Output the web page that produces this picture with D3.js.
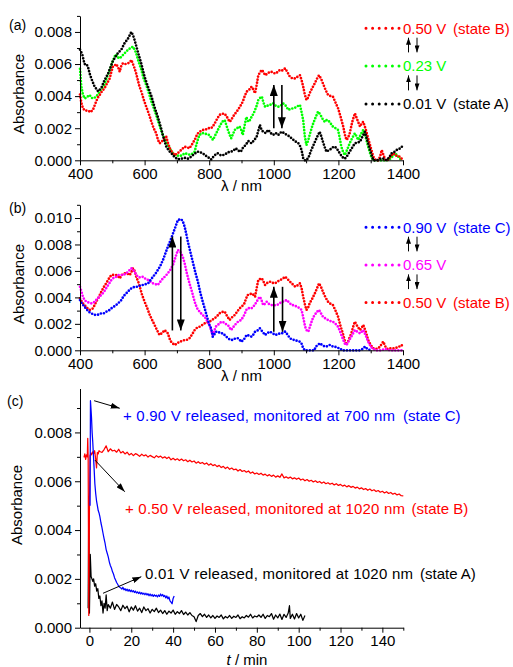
<!DOCTYPE html>
<html>
<head>
<meta charset="utf-8">
<script src="https://cdn.jsdelivr.net/npm/d3@7"></script>
<style>
  html, body { margin: 0; padding: 0; background: #fff; }
  svg { display: block; }
  text { font-family: "Liberation Sans", Arial, sans-serif; }
</style>
</head>
<body>
<svg id="fig" width="513" height="667"></svg>
<script>
// ---------- panel (a): spectra between 0.01 V and 0.50 V ----------
const specA_050 = [[400,0.0041],[404,0.0036],[409,0.00324],[415,0.0031],[425,0.0031],[432,0.0030],[440,0.00314],[445,0.0034],[450,0.00366],[455,0.0039],[461,0.00407],[468,0.0043],[476,0.00449],[484,0.0048],[492,0.0051],[497,0.0055],[502,0.00584],[507,0.0059],[512,0.0060],[518,0.0058],[523,0.00552],[528,0.0059],[533,0.00605],[541,0.0060],[549,0.00605],[554,0.0061],[559,0.00625],[564,0.0060],[569,0.00573],[574,0.0054],[579,0.0050],[584,0.0046],[590,0.00428],[597,0.0038],[605,0.00334],[613,0.0029],[621,0.0024],[628,0.0020],[636,0.00168],[641,0.0013],[646,0.00106],[651,0.0011],[657,0.00127],[662,0.0014],[667,0.00147],[672,0.0011],[678,0.00075],[685,0.0005],[693,0.00033],[700,0.0004],[708,0.00054],[716,0.0007],[724,0.00085],[732,0.0008],[739,0.00075],[747,0.0010],[755,0.00127],[760,0.0015],[765,0.00168],[772,0.0018],[780,0.00189],[788,0.0019],[796,0.0020],[806,0.0020],[811,0.0021],[817,0.0023],[825,0.0026],[832,0.00283],[840,0.0029],[848,0.0029],[855,0.0027],[863,0.0024],[868,0.0025],[873,0.0027],[880,0.0029],[889,0.00314],[897,0.0034],[904,0.00366],[910,0.0040],[916,0.00428],[924,0.0044],[931,0.00459],[937,0.0044],[942,0.00418],[947,0.0047],[952,0.0053],[958,0.0055],[963,0.00563],[968,0.0055],[973,0.0053],[980,0.0054],[988,0.00552],[996,0.0055],[1004,0.0054],[1012,0.0055],[1019,0.00563],[1027,0.0056],[1035,0.00573],[1042,0.0055],[1050,0.0052],[1058,0.0051],[1066,0.0051],[1073,0.0052],[1081,0.0053],[1086,0.0050],[1091,0.00459],[1096,0.0041],[1101,0.00376],[1106,0.0039],[1111,0.00418],[1119,0.0045],[1127,0.0048],[1134,0.0051],[1140,0.0053],[1146,0.0051],[1152,0.0048],[1160,0.0044],[1168,0.00407],[1176,0.0040],[1183,0.00397],[1191,0.0036],[1199,0.00324],[1207,0.0027],[1215,0.0021],[1220,0.0016],[1225,0.00127],[1230,0.0014],[1235,0.00168],[1243,0.0024],[1251,0.00293],[1259,0.0025],[1267,0.0021],[1272,0.0023],[1277,0.0024],[1285,0.0019],[1292,0.00137],[1300,0.0008],[1308,0.00023],[1316,0],[1324,0],[1330,0.0003],[1334,0.00064],[1340,0.0003],[1346,0],[1352,0],[1360,0.0002],[1370,0.00044],[1378,0.0003],[1390,0.00023],[1396,0.0001],[1400,0]];

const specA_023 = [[400,0.0057],[404,0.0046],[409,0.0041],[414,0.00386],[420,0.0039],[425,0.0040],[430,0.00407],[435,0.0039],[440,0.00386],[445,0.0039],[450,0.00397],[455,0.0041],[461,0.00428],[468,0.0045],[476,0.0047],[484,0.0052],[492,0.00563],[500,0.0061],[507,0.00646],[512,0.0066],[518,0.0064],[523,0.00635],[530,0.0065],[538,0.00667],[544,0.0068],[549,0.00688],[556,0.0070],[564,0.00708],[569,0.0069],[574,0.00667],[582,0.0061],[590,0.00563],[597,0.0051],[605,0.0047],[613,0.0042],[621,0.00366],[631,0.0031],[641,0.0025],[649,0.0020],[656,0.0016],[662,0.0013],[667,0.00106],[672,0.0009],[678,0.00075],[685,0.0005],[693,0.00033],[700,0.0003],[708,0.00027],[716,0.0003],[724,0.00044],[732,0.0004],[739,0.00035],[747,0.0004],[755,0.00054],[760,0.00095],[765,0.0013],[770,0.00158],[778,0.0017],[786,0.00168],[794,0.0016],[801,0.00158],[806,0.0014],[812,0.00127],[817,0.0015],[822,0.00168],[827,0.0019],[832,0.0021],[840,0.0024],[848,0.0025],[853,0.0022],[858,0.00189],[863,0.0016],[868,0.00137],[873,0.0016],[879,0.00189],[886,0.0020],[894,0.0021],[899,0.0019],[904,0.00158],[910,0.0022],[915,0.0027],[921,0.0024],[926,0.0025],[931,0.0027],[937,0.0029],[942,0.00314],[947,0.0034],[952,0.00376],[958,0.0039],[963,0.00397],[968,0.0036],[973,0.00334],[980,0.0034],[988,0.00345],[993,0.0035],[998,0.00355],[1006,0.0034],[1014,0.00334],[1021,0.0034],[1029,0.00355],[1037,0.0034],[1045,0.00314],[1052,0.0032],[1060,0.00324],[1068,0.0033],[1076,0.0034],[1081,0.00345],[1086,0.0030],[1091,0.0025],[1096,0.0015],[1101,0.00095],[1106,0.0012],[1111,0.00158],[1117,0.0020],[1122,0.0023],[1130,0.0027],[1137,0.00303],[1142,0.0029],[1148,0.0027],[1153,0.0025],[1158,0.0024],[1163,0.0025],[1168,0.0025],[1176,0.0023],[1183,0.0021],[1191,0.0020],[1199,0.00189],[1204,0.0014],[1209,0.00085],[1215,0.0005],[1220,0.00033],[1228,0.0007],[1235,0.00106],[1243,0.0014],[1251,0.00168],[1256,0.0015],[1261,0.00127],[1269,0.0016],[1277,0.00189],[1285,0.0014],[1292,0.00085],[1300,0.0003],[1308,0],[1330,0],[1350,0],[1362,0.0001],[1370,0.0003],[1375,0.00044],[1382,0.0003],[1390,0.0001],[1400,0]];

const specA_001 = [[400,0.0069],[407,0.0066],[414,0.0060],[420,0.0060],[425,0.0058],[430,0.0054],[435,0.0051],[445,0.0046],[456,0.0043],[466,0.0045],[476,0.0050],[487,0.0054],[502,0.0062],[518,0.0067],[528,0.0069],[538,0.0073],[549,0.0076],[559,0.0080],[564,0.0078],[569,0.0075],[580,0.0067],[590,0.0060],[600,0.0052],[610,0.0046],[621,0.0040],[631,0.0033],[641,0.0027],[651,0.0020],[656,0.0016],[667,0.00085],[675,0.0006],[683,0.00044],[693,0.0002],[703,0.00006],[714,0.0001],[724,0.00015],[734,0.0001],[744,0.00022],[754,0.0004],[764,0.00054],[772,0.0005],[780,0.00044],[788,0.0003],[796,0.0002],[806,0.00005],[816,0.0003],[826,0.00044],[837,0.0003],[848,0.00035],[858,0.0005],[868,0.00054],[875,0.0006],[882,0.00075],[890,0.0006],[898,0.00054],[905,0.0008],[913,0.00095],[921,0.0012],[931,0.00106],[941,0.0013],[947,0.00147],[957,0.0022],[962,0.0019],[967,0.00178],[975,0.0017],[983,0.0019],[990,0.0017],[998,0.00158],[1006,0.0017],[1014,0.00158],[1024,0.00178],[1032,0.0017],[1040,0.00158],[1048,0.0015],[1055,0.00137],[1065,0.0012],[1076,0.00106],[1081,0.0009],[1086,0.00064],[1091,0.00012],[1096,0],[1101,0],[1108,0.0002],[1116,0.00064],[1124,0.0010],[1132,0.00137],[1142,0.00178],[1147,0.0015],[1152,0.00116],[1158,0.0008],[1163,0.00054],[1168,0.0006],[1173,0.00064],[1181,0.0008],[1189,0.00085],[1196,0.0007],[1204,0.00044],[1212,0.0002],[1220,0.0001],[1228,0.0003],[1235,0.00054],[1243,0.0008],[1251,0.00106],[1259,0.0011],[1267,0.00116],[1275,0.0015],[1282,0.00178],[1290,0.0012],[1298,0.00064],[1308,0],[1320,0],[1330,0.0001],[1339,0.0001],[1350,0],[1358,0.0002],[1365,0.00044],[1372,0.0005],[1380,0.00064],[1388,0.0007],[1396,0.00085],[1400,0.0008]];

// ---------- panel (b): spectra between 0.50 V and 0.90 V ----------
const specB_090 = [[400,0.0038],[407,0.0035],[414,0.0033],[420,0.0031],[428,0.0029],[435,0.0028],[442,0.0027],[450,0.00267],[458,0.0027],[466,0.0028],[474,0.0028],[481,0.00292],[489,0.0030],[497,0.00317],[505,0.0033],[512,0.00342],[520,0.0036],[528,0.0038],[535,0.0041],[543,0.0043],[551,0.0045],[559,0.00469],[569,0.0048],[580,0.00481],[587,0.0049],[595,0.00494],[603,0.0050],[611,0.00506],[618,0.0053],[626,0.00556],[634,0.0058],[641,0.00607],[649,0.0064],[657,0.00683],[664,0.0073],[672,0.00783],[680,0.0083],[688,0.00884],[695,0.0093],[703,0.00985],[709,0.0099],[714,0.0099],[719,0.0097],[724,0.00934],[729,0.0088],[734,0.0082],[741,0.0075],[749,0.0067],[757,0.0059],[765,0.00519],[772,0.0044],[780,0.00367],[788,0.0030],[796,0.00229],[801,0.0019],[806,0.00166],[811,0.00103],[816,0.0012],[821,0.0014],[827,0.00141],[834,0.0013],[842,0.00128],[850,0.0011],[858,0.00091],[865,0.0008],[873,0.00078],[881,0.0009],[889,0.00091],[894,0.0008],[899,0.00065],[907,0.0008],[916,0.00116],[924,0.0011],[931,0.00103],[937,0.0012],[942,0.00141],[950,0.0015],[957,0.00166],[965,0.0014],[973,0.00116],[980,0.0013],[988,0.00141],[996,0.0013],[1004,0.00116],[1012,0.0012],[1019,0.00128],[1027,0.0013],[1035,0.00141],[1042,0.0012],[1050,0.00091],[1058,0.0008],[1066,0.00078],[1073,0.0007],[1081,0.00065],[1086,0.0005],[1091,0.00015],[1096,0],[1110,0],[1125,0],[1131,0.0003],[1137,0.0004],[1142,0.00053],[1150,0.0004],[1158,0.00028],[1165,0.0003],[1173,0.0004],[1181,0.0003],[1189,0.00028],[1196,0.0002],[1204,0.00015],[1212,0],[1230,0],[1250,0],[1265,0],[1275,0.0001],[1282,0.00028],[1290,0.0001],[1300,0]];

const specB_065 = [[400,0.0048],[405,0.0044],[409,0.00405],[414,0.0038],[420,0.00367],[428,0.0036],[435,0.00355],[442,0.0036],[450,0.0038],[458,0.0040],[466,0.00418],[474,0.0044],[481,0.00469],[489,0.0050],[497,0.00531],[505,0.0055],[512,0.00556],[520,0.0057],[528,0.00569],[535,0.0057],[543,0.00582],[551,0.0060],[559,0.0062],[564,0.0061],[569,0.00594],[574,0.0057],[580,0.00556],[587,0.0055],[595,0.00556],[603,0.0054],[611,0.00531],[618,0.0052],[626,0.00506],[634,0.0050],[641,0.00494],[649,0.0052],[657,0.00544],[664,0.0056],[672,0.00582],[680,0.0061],[688,0.00645],[695,0.0070],[703,0.00758],[709,0.0075],[714,0.0073],[719,0.0070],[724,0.00658],[731,0.0058],[739,0.00506],[747,0.0044],[755,0.00367],[762,0.0032],[770,0.00292],[778,0.0027],[786,0.00254],[794,0.0022],[801,0.00191],[806,0.0015],[811,0.00116],[816,0.0015],[821,0.0018],[827,0.00191],[834,0.0021],[842,0.00216],[850,0.0020],[858,0.00191],[863,0.0017],[868,0.00153],[876,0.0018],[884,0.00204],[891,0.0022],[899,0.00229],[907,0.0026],[916,0.0031],[924,0.0032],[931,0.00317],[940,0.0034],[947,0.00367],[952,0.0039],[957,0.00405],[962,0.0038],[967,0.00342],[972,0.0035],[978,0.00367],[985,0.0035],[993,0.00342],[1001,0.0034],[1009,0.00342],[1016,0.0035],[1024,0.00367],[1032,0.0037],[1040,0.0038],[1048,0.0036],[1055,0.00342],[1063,0.0034],[1071,0.0033],[1079,0.0032],[1086,0.00305],[1091,0.0025],[1097,0.00178],[1102,0.0015],[1107,0.00141],[1112,0.0018],[1117,0.00216],[1122,0.0025],[1127,0.00267],[1133,0.0029],[1140,0.00305],[1146,0.0028],[1152,0.00254],[1160,0.0024],[1168,0.00229],[1176,0.0022],[1183,0.00216],[1191,0.0020],[1199,0.00178],[1207,0.0013],[1215,0.00078],[1220,0.0005],[1225,0.0004],[1232,0.0007],[1240,0.00103],[1246,0.0013],[1251,0.00153],[1259,0.0014],[1267,0.00128],[1272,0.0014],[1277,0.00153],[1285,0.0011],[1292,0.00065],[1300,0.0003],[1305,0.00015],[1315,0],[1330,0],[1345,0.0001],[1360,0],[1375,0],[1390,0],[1400,0]];

const specB_050 = [[400,0.00393],[407,0.0036],[414,0.00342],[422,0.0032],[430,0.00305],[436,0.0031],[440,0.00317],[445,0.0034],[450,0.00367],[458,0.0040],[466,0.00443],[474,0.0048],[481,0.00506],[489,0.0054],[497,0.00569],[505,0.0057],[512,0.00569],[518,0.0056],[523,0.00544],[530,0.0057],[538,0.00582],[546,0.0058],[554,0.00569],[559,0.0059],[564,0.0062],[569,0.0060],[574,0.00556],[580,0.0052],[585,0.00481],[592,0.0042],[600,0.00367],[608,0.0032],[616,0.00267],[623,0.0023],[631,0.00191],[639,0.0015],[646,0.00116],[654,0.0013],[662,0.00153],[667,0.0014],[672,0.00128],[677,0.0009],[682,0.00065],[688,0.0005],[693,0.0004],[700,0.0005],[708,0.00065],[716,0.0007],[724,0.00078],[732,0.0008],[739,0.00091],[747,0.0012],[755,0.00153],[762,0.0017],[770,0.00178],[778,0.0019],[786,0.00204],[794,0.0021],[801,0.00216],[809,0.0023],[817,0.00242],[825,0.0026],[832,0.0028],[840,0.0029],[848,0.00292],[855,0.0026],[863,0.00229],[871,0.0025],[879,0.00267],[886,0.0029],[894,0.00317],[901,0.0033],[909,0.00355],[914,0.0039],[919,0.00418],[925,0.0042],[931,0.0043],[937,0.0042],[942,0.00405],[947,0.0047],[952,0.00531],[958,0.0054],[963,0.00544],[968,0.0052],[973,0.00494],[980,0.0051],[988,0.00519],[996,0.0051],[1004,0.00506],[1012,0.0052],[1019,0.00531],[1027,0.0054],[1035,0.00556],[1042,0.0054],[1050,0.00519],[1058,0.0050],[1066,0.00481],[1073,0.0049],[1081,0.00506],[1086,0.0047],[1091,0.00405],[1096,0.0035],[1101,0.00305],[1106,0.0032],[1111,0.00355],[1119,0.0039],[1127,0.0043],[1134,0.0047],[1140,0.00506],[1146,0.0048],[1152,0.00443],[1160,0.0040],[1168,0.00367],[1176,0.0035],[1183,0.00342],[1191,0.0030],[1199,0.00254],[1207,0.0018],[1215,0.00116],[1220,0.0007],[1225,0.0004],[1232,0.0008],[1240,0.00128],[1246,0.0018],[1251,0.00216],[1259,0.0018],[1267,0.00153],[1272,0.0017],[1277,0.00191],[1285,0.0014],[1292,0.00078],[1300,0.0004],[1308,0.00015],[1316,0.0001],[1324,0.00015],[1332,0.0004],[1339,0.00065],[1345,0.0003],[1352,0.0001],[1360,0.00015],[1370,0.00015],[1380,0.0002],[1390,0.0003],[1396,0.0004],[1400,0.0002]];

// ---------- panel (c): absorbance after the potential is released ----------
const trace090 = [[0.3,0.0050],[0.5,0.0093],[0.8,0.0089],[1.0,0.0086],[1.3,0.0080],[1.6,0.0076],[1.9,0.0071],[2.2,0.0066],[2.6,0.0059],[3.0,0.0055],[3.4,0.0052],[3.8,0.0050],[4.2,0.0048],[4.6,0.0047],[5.0,0.00455],[5.5,0.0043],[6.0,0.0041],[6.5,0.00387],[7.0,0.00365],[7.5,0.00345],[8.0,0.0032],[8.5,0.00305],[9.0,0.0029],[9.5,0.0027],[10.0,0.00255],[10.5,0.00245],[11.0,0.0023],[11.5,0.0022],[12.0,0.00205],[12.5,0.00195],[13.0,0.00185],[13.5,0.00178],[14.0,0.0017],[14.5,0.00166],[15.0,0.00163],[15.5,0.00158],[16.0,0.00166],[16.5,0.00155],[17.0,0.0016],[17.5,0.00152],[18.0,0.00158],[18.5,0.0015],[19.0,0.00156],[19.5,0.00148],[20.0,0.00154],[20.5,0.00147],[21.0,0.00152],[21.5,0.00144],[22.0,0.0015],[22.5,0.00142],[23.0,0.00147],[23.5,0.0014],[24.0,0.00146],[24.5,0.00138],[25.0,0.00144],[25.5,0.00137],[26.0,0.00142],[26.5,0.00135],[27.0,0.00141],[27.5,0.00134],[28.0,0.00139],[28.5,0.00131],[29.0,0.00138],[29.5,0.0013],[30.0,0.00136],[30.5,0.00128],[31.0,0.00135],[31.5,0.00129],[32.0,0.00133],[32.5,0.00126],[33.0,0.00134],[33.5,0.00128],[34.0,0.00138],[34.5,0.0013],[35.0,0.00136],[35.5,0.00127],[36.0,0.00132],[36.5,0.00122],[37.0,0.0013],[37.5,0.00118],[38.0,0.00126],[38.5,0.0011],[39.0,0.00105],[39.5,0.00098],[40.0,0.0012],[40.5,0.0013]];

const trace050 = [[-2.6,0.00698],[-2.2,0.00712],[-1.8,0.0069],[-1.4,0.00708],[-1.0,0.007],[-0.8,0.00776],[-0.6,0.00695],[-0.3,0.0005],[0.0,0.0048],[0.3,0.00705],[0.7,0.00715],[1.0,0.00708],[1.5,0.0072],[2.0,0.00712],[2.5,0.00725],[3.0,0.0069],[3.4,0.00655],[3.8,0.00718],[4.2,0.00712],[4.6,0.00725],[5,0.00722],[6,0.00718],[7,0.0073],[8,0.00745],[9,0.00721],[10,0.00733],[11,0.00724],[12,0.00727],[13,0.00719],[14,0.00731],[15,0.00716],[16,0.00722],[17,0.00712],[18,0.00719],[19,0.00708],[20,0.00714],[21,0.00705],[22,0.00713],[23,0.00709],[24,0.00702],[25,0.00711],[26,0.00704],[27,0.00708],[28,0.00699],[29,0.00706],[30,0.00701],[31,0.00696],[32,0.00705],[33,0.00698],[34,0.00703],[35,0.00695],[36,0.007],[37,0.00693],[38,0.00699],[39,0.00688],[40,0.00694],[41,0.00687],[42,0.00692],[43,0.00685],[44,0.00691],[45,0.00684],[46,0.00688],[47,0.0068],[48,0.00686],[49,0.00679],[50,0.00683],[51,0.00674],[52,0.0068],[53,0.00673],[54,0.00677],[55,0.0067],[56,0.00675],[57,0.00666],[58,0.00672],[59,0.00664],[60,0.00668],[61,0.0066],[62,0.00665],[63,0.00656],[64,0.00661],[65,0.00652],[66,0.00658],[67,0.00649],[68,0.00654],[69,0.00647],[70,0.0065],[71,0.00642],[72,0.00648],[73,0.0064],[74,0.00644],[75,0.00637],[76,0.00642],[77,0.00633],[78,0.00638],[79,0.0063],[80,0.00634],[81,0.00628],[82,0.00633],[83,0.00625],[84,0.00629],[85,0.00622],[86,0.00627],[87,0.0062],[88,0.00625],[89,0.00617],[90,0.00622],[91,0.00616],[92,0.0063],[93,0.00614],[94,0.00618],[95,0.00612],[96,0.00617],[97,0.0061],[98,0.00614],[99,0.00608],[100,0.00613],[101,0.00605],[102,0.00609],[103,0.00602],[104,0.00607],[105,0.006],[106,0.00604],[107,0.00597],[108,0.00602],[109,0.00595],[110,0.00599],[111,0.00592],[112,0.00597],[113,0.0059],[114,0.00594],[115,0.00588],[116,0.00592],[117,0.00585],[118,0.0059],[119,0.00583],[120,0.00587],[121,0.0058],[122,0.00584],[123,0.00577],[124,0.00582],[125,0.00575],[126,0.00579],[127,0.00572],[128,0.00576],[129,0.00569],[130,0.00573],[131,0.00566],[132,0.0057],[133,0.00563],[134,0.00568],[135,0.00561],[136,0.00565],[137,0.00558],[138,0.00562],[139,0.00555],[140,0.00559],[141,0.00552],[142,0.00557],[143,0.0055],[144,0.00554],[145,0.00547],[146,0.00551],[147,0.00544],[148,0.00548],[149,0.00541],[150,0.0054]];

const trace001 = [[-0.6,0.0008],[-0.3,0.0052],[0.0,0.0006],[0.4,0.003],[0.8,0.0021],[1.2,0.002],[1.6,0.0019],[2.0,0.002],[2.5,0.0017],[3.0,0.0018],[3.5,0.0015],[4.0,0.0016],[4.5,0.0012],[5.0,0.0013],[5.5,0.0009],[6.0,0.0011],[6.5,0.0006],[7.0,0.001],[7.5,0.0008],[8.0,0.00134],[8.5,0.0007],[9,0.00095],[10,0.0008],[11,0.00105],[12,0.00075],[13,0.00095],[14,0.00085],[15,0.0007],[16,0.00092],[17,0.00078],[18,0.00088],[19,0.00065],[20,0.00085],[21,0.00072],[22,0.0009],[23,0.00068],[24,0.0008],[25,0.00062],[26,0.00085],[27,0.0007],[28,0.00078],[29,0.0006],[30,0.00075],[31,0.00066],[32,0.0008],[33,0.00062],[34,0.00072],[35,0.00058],[36,0.0007],[37,0.00055],[38,0.00068],[39,0.0006],[40,0.00072],[41,0.00055],[42,0.00066],[43,0.00058],[44,0.0007],[45,0.00054],[46,0.00064],[47,0.00052],[48,0.00062],[49,0.0005],[50,0.00045],[51,0.00025],[52,0.0005],[53,0.00058],[54,0.00045],[55,0.00055],[56,0.00042],[57,0.00052],[58,0.0004],[59,0.0005],[60,0.00038],[61,0.00048],[62,0.00042],[63,0.00052],[64,0.00036],[65,0.00046],[66,0.0004],[67,0.0005],[68,0.00038],[69,0.00047],[70,0.00042],[71,0.00052],[72,0.00037],[73,0.00045],[74,0.0004],[75,0.0005],[76,0.00043],[77,0.00055],[78,0.0004],[79,0.00048],[80,0.00044],[81,0.00052],[82,0.00042],[83,0.00055],[84,0.00038],[85,0.0005],[86,0.00045],[87,0.00058],[88,0.00035],[89,0.00052],[90,0.0004],[91,0.00056],[92,0.00034],[93,0.00055],[94,0.00042],[95,0.0006],[95.6,0.0009],[96,0.00038],[97,0.00055],[98,0.00036],[99,0.00058],[100,0.0004],[101,0.00055],[102,0.0003],[103,0.0005]];

// ---------- tick values ----------
const xTicksNm = [400, 600, 800, 1000, 1200, 1400];
const xMinorNm = [500, 700, 900, 1100, 1300];
const yTicksA = [0, 0.002, 0.004, 0.006, 0.008];
const yMinorA = [0.001, 0.003, 0.005, 0.007, 0.009];
const yTicksB = [0, 0.002, 0.004, 0.006, 0.008, 0.010];
const yMinorB = [0.001, 0.003, 0.005, 0.007, 0.009, 0.011];
const xTicksMin = [0, 20, 40, 60, 80, 100, 120, 140];
const xMinorMin = [10, 30, 50, 70, 90, 110, 130, 150];
const yTicksC = [0, 0.002, 0.004, 0.006, 0.008];
const yMinorC = [0.001, 0.003, 0.005, 0.007, 0.009];

// legend labels
const legendA = [
  { label: "0.50 V", state: "(state B)", color: "#ff0000" },
  { label: "0.23 V", state: "", color: "#00ff00" },
  { label: "0.01 V", state: "(state A)", color: "#000000" }
];
const legendB = [
  { label: "0.90 V", state: "(state C)", color: "#0000ff" },
  { label: "0.65 V", state: "", color: "#ff00ff" },
  { label: "0.50 V", state: "(state B)", color: "#ff0000" }
];

const svg = d3.select("#fig");
const FONT = 15;

// arrowhead markers
const defs = svg.append("defs");
function marker(id, w, h) {
  defs.append("marker").attr("id", id)
    .attr("viewBox", `0 0 ${h} ${w}`).attr("refX", h).attr("refY", w / 2)
    .attr("markerUnits", "userSpaceOnUse")
    .attr("markerWidth", h).attr("markerHeight", w)
    .attr("orient", "auto")
    .append("path").attr("d", `M0,0 L${h},${w / 2} L0,${w} Z`).attr("fill", "#000");
}
marker("headBig", 8, 11);
marker("headSmall", 5, 7);
marker("headThin", 6, 9);

function drawAxes(g, x, y, o) {
  g.append("g").attr("transform", `translate(0,${y.range()[0]})`)
    .call(d3.axisBottom(x).tickValues(o.xMajor).tickSize(5).tickSizeOuter(0).tickPadding(3).tickFormat(d3.format("d")));
  g.append("g").attr("transform", `translate(0,${y.range()[0]})`)
    .call(d3.axisBottom(x).tickValues(o.xMinor).tickSize(3).tickSizeOuter(0).tickFormat(""))
    .select(".domain").remove();
  g.append("g").attr("transform", `translate(${x.range()[0]},0)`)
    .call(d3.axisLeft(y).tickValues(o.yMajor).tickSize(5).tickSizeOuter(0).tickPadding(3).tickFormat(d3.format(".3f")));
  g.append("g").attr("transform", `translate(${x.range()[0]},0)`)
    .call(d3.axisLeft(y).tickValues(o.yMinor).tickSize(3).tickSizeOuter(0).tickFormat(""))
    .select(".domain").remove();
  g.selectAll(".tick text").attr("font-size", FONT).attr("fill", "#000")
    .attr("font-family", '"Liberation Sans", Arial, sans-serif');
  g.selectAll(".domain, .tick line").attr("stroke", "#000").attr("stroke-width", 1);
}

// spectra are drawn as closely spaced round dots along the curve
function dotted(g, data, x, y, color) {
  g.append("path").datum(data)
    .attr("d", d3.line().x(d => x(d[0])).y(d => y(d[1])))
    .attr("fill", "none").attr("stroke", color)
    .attr("stroke-width", 2.7).attr("stroke-linecap", "round")
    .attr("stroke-dasharray", "0 3.1");
}

function solid(g, data, x, y, color) {
  g.append("path").datum(data)
    .attr("d", d3.line().x(d => x(d[0])).y(d => y(d[1])))
    .attr("fill", "none").attr("stroke", color)
    .attr("stroke-width", 1.25).attr("stroke-linejoin", "round");
}

function arrow(g, x1, y1, x2, y2, head, w) {
  g.append("line").attr("x1", x1).attr("y1", y1).attr("x2", x2).attr("y2", y2)
    .attr("stroke", "#000").attr("stroke-width", w).attr("marker-end", `url(#${head})`);
}

function legend(g, items, yBase) {
  items.forEach((it, i) => {
    const yb = yBase[i];
    g.append("line").attr("x1", 366).attr("x2", 399).attr("y1", yb - 5.5).attr("y2", yb - 5.5)
      .attr("stroke", it.color).attr("stroke-width", 3).attr("stroke-linecap", "round")
      .attr("stroke-dasharray", "0 6.6");
    g.append("text").attr("x", 403).attr("y", yb).attr("font-size", FONT)
      .attr("fill", it.color).text(it.label);
    if (it.state) {
      g.append("text").attr("x", 453).attr("y", yb).attr("font-size", FONT)
        .attr("fill", it.color).text(it.state);
    }
  });
  // small up/down arrows between legend rows
  for (let i = 0; i < items.length - 1; i++) {
    const top = yBase[i] + 4, bot = yBase[i + 1] - 19;
    arrow(g, 408.5, bot, 408.5, top, "headSmall", 1);
    arrow(g, 417, top, 417, bot, "headSmall", 1);
  }
}

function yTitle(g, cx, cy) {
  g.append("text").attr("transform", `translate(${cx},${cy}) rotate(-90)`)
    .attr("text-anchor", "middle").attr("font-size", FONT).text("Absorbance");
}

// ===== panel (a) =====
{
  const g = svg.append("g");
  const x = d3.scaleLinear().domain([400, 1400]).range([80, 403]);
  const y = d3.scaleLinear().domain([0, 0.009]).range([160.3, 15.9]);
  dotted(g, specA_023, x, y, "#00ff00");
  dotted(g, specA_050, x, y, "#ff0000");
  dotted(g, specA_001, x, y, "#000000");
  drawAxes(g, x, y, { xMajor: xTicksNm, xMinor: xMinorNm, yMajor: yTicksA, yMinor: yMinorA });
  arrow(g, x(1000), y(0.0020), x(1000), y(0.0047), "headBig", 1.6);
  arrow(g, x(1025), y(0.0047), x(1025), y(0.0020), "headBig", 1.6);
  g.append("text").attr("x", 241.5).attr("y", 191).attr("text-anchor", "middle")
    .attr("font-size", FONT).text("λ / nm");
  yTitle(g, 23.5, 94);
  g.append("text").attr("x", 9).attr("y", 30).attr("font-size", 14).text("(a)");
  legend(g, legendA, [33.7, 71.4, 109.4]);
}

// ===== panel (b) =====
{
  const g = svg.append("g");
  const x = d3.scaleLinear().domain([400, 1400]).range([80, 403]);
  const y = d3.scaleLinear().domain([0, 0.011]).range([350.3, 204.8]);
  dotted(g, specB_050, x, y, "#ff0000");
  dotted(g, specB_065, x, y, "#ff00ff");
  dotted(g, specB_090, x, y, "#0000ff");
  drawAxes(g, x, y, { xMajor: xTicksNm, xMinor: xMinorNm, yMajor: yTicksB, yMinor: yMinorB });
  arrow(g, x(686), y(0.0015), x(686), y(0.0086), "headBig", 1.6);
  arrow(g, x(712), y(0.0086), x(712), y(0.0015), "headBig", 1.6);
  arrow(g, x(1000), y(0.0014), x(1000), y(0.0048), "headBig", 1.6);
  arrow(g, x(1027), y(0.0048), x(1027), y(0.0014), "headBig", 1.6);
  g.append("text").attr("x", 241.5).attr("y", 381).attr("text-anchor", "middle")
    .attr("font-size", FONT).text("λ / nm");
  yTitle(g, 23.5, 284);
  g.append("text").attr("x", 9).attr("y", 213).attr("font-size", 14).text("(b)");
  legend(g, legendB, [232.7, 270.4, 308.1]);
}

// ===== panel (c) =====
{
  const g = svg.append("g");
  const x = d3.scaleLinear().domain([-4.5, 150]).range([80, 403.3]);
  const y = d3.scaleLinear().domain([0, 0.0098]).range([627.7, 388.5]);
  solid(g, trace001, x, y, "#000000");
  solid(g, trace050, x, y, "#ff0000");
  solid(g, trace090, x, y, "#0000ff");
  drawAxes(g, x, y, { xMajor: xTicksMin, xMinor: xMinorMin, yMajor: yTicksC, yMinor: yMinorC });

  arrow(g, x(2.25), y(0.0093), x(14.5), y(0.00899), "headThin", 1);
  arrow(g, x(2.6), y(0.00687), x(16.9), y(0.00557), "headThin", 1);
  arrow(g, x(6.5), y(0.00141), x(24.8), y(0.00209), "headThin", 1);

  // annotation rows: text start, spread width, and the "(state …)" tag position
  const notes = [
    { x: 123, y: 420.5, w: 272, text: "+ 0.90 V released, monitored at 700 nm", sx: 403, state: "(state C)", color: "#0000ff" },
    { x: 125, y: 513.7, w: 280, text: "+ 0.50 V released, monitored at 1020 nm", sx: 411.5, state: "(state B)", color: "#ff0000" },
    { x: 145, y: 578.7, w: 268, text: "0.01 V released, monitored at 1020 nm", sx: 420, state: "(state A)", color: "#000000" }
  ];
  notes.forEach(n => {
    g.append("text").attr("x", n.x).attr("y", n.y).attr("font-size", FONT).attr("fill", n.color)
      .attr("textLength", n.w).attr("lengthAdjust", "spacing").text(n.text);
    g.append("text").attr("x", n.sx).attr("y", n.y).attr("font-size", FONT).attr("fill", n.color).text(n.state);
  });

  const xt = g.append("text").attr("x", 247).attr("y", 665).attr("text-anchor", "middle").attr("font-size", FONT);
  xt.append("tspan").attr("font-style", "italic").text("t");
  xt.append("tspan").text(" / min");
  yTitle(g, 21.5, 505);
  g.append("text").attr("x", 7).attr("y", 406).attr("font-size", 14).text("(c)");
}
</script>
</body>
</html>
